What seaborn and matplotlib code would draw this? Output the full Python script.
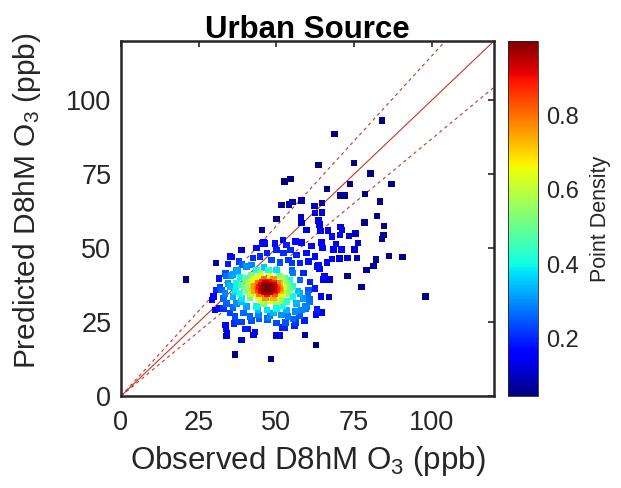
import numpy as np
import pandas as pd
import matplotlib
matplotlib.use("Agg")
import matplotlib.pyplot as plt
import seaborn as sns

# ---------------- data ----------------
# dense core
core_x = [42, 45, 48, 51,
          40, 43, 46, 49, 52,
          41, 44, 46.5, 49, 51, 53.5,
          39.5, 42.5, 44.5, 46, 47.5, 49, 50.5, 52.5,
          40.5, 43, 45, 46.5, 48, 49.5, 51.5, 54,
          42, 44.5, 47, 49.5, 52,
          41.5, 44, 46.5, 49, 51.5,
          45, 48, 51,
          45.5, 46.5, 47.5, 48.5, 45.0, 46.0, 47.0, 48.0, 49.0, 46.0,
          47.0, 48.0, 44.5, 49.5, 45.5, 47.5, 46.5, 48.5, 44.0, 50.0,
          46.0, 47.0, 48.0, 45.0, 49.0, 43.0, 51.0, 42.5, 50.5]
core_y = [40.5, 40.5, 40.5, 40.5,
          39.3, 39.3, 39.3, 39.3, 39.3,
          38.1, 38.1, 38.1, 38.1, 38.1, 38.1,
          36.9, 36.9, 36.9, 36.9, 36.9, 36.9, 36.9, 36.9,
          35.7, 35.7, 35.7, 35.7, 35.7, 35.7, 35.7, 35.7,
          34.5, 34.5, 34.5, 34.5, 34.5,
          33.3, 33.3, 33.3, 33.3, 33.3,
          32.1, 32.1, 32.1,
          36.3, 36.3, 36.3, 36.3, 37.5, 37.5, 37.5, 37.5, 37.5, 35.2,
          35.2, 35.2, 36.9, 36.9, 38.5, 38.5, 37.0, 37.0, 36.0, 36.0,
          36.6, 36.6, 36.6, 35.8, 35.8, 37.2, 36.2, 35.5, 38.0]

# middle ring
ring_x = [49.5, 52.1, 53.3, 56.0, 58.1, 61.3,
          43.6, 45.8, 46.9, 50.1, 52.2, 54.6, 56.5, 59.6, 62.4,
          42.5, 44.7, 48.5, 51.2, 53.9, 57.6, 60.3, 63.0,
          40.4, 42.0, 43.6, 37.2, 38.3, 35.1, 34.5, 33.5, 34.0, 32.9,
          35.1, 36.7, 39.4, 41.5, 44.2, 46.9, 49.0, 51.7, 53.8, 56.0,
          58.1, 59.7, 60.8, 60.3, 60.8, 58.7, 57.6, 55.4, 55.4, 57.6,
          56.5, 53.3, 50.1, 46.9, 43.6, 40.4, 37.2, 36.1, 36.7, 37.2,
          39.9, 44.7, 54.4, 53.3, 55.4,
          30.8, 29.7, 29.3, 30.2, 31.6, 31.8, 32.3, 33.6, 35.4, 37.4,
          34.5, 35.1, 37.9,
          38.3, 38.8, 45.8, 50.1, 53.3, 54.4, 52.8, 50.1, 47.4, 42.0, 38.8,
          37.0, 39.0, 36.0, 46.0, 55.0, 57.0, 52.0, 44.0, 36.0, 33.0,
          34.0, 39.0, 55.0, 58.5, 57.5, 48.0, 42.0]
ring_y = [51.6, 52.7, 51.0, 52.2, 51.9, 50.7,
          50.0, 51.9, 48.3, 49.4, 48.3, 49.4, 47.7, 48.3, 47.1,
          46.6, 47.1, 46.0, 45.1, 46.0, 44.9, 45.5, 43.8,
          43.7, 44.3, 42.6, 42.6, 40.3, 37.0, 38.1, 34.7, 31.3, 29.6,
          28.0, 26.8, 28.0, 26.8, 27.4, 26.3, 28.0, 27.4, 26.8, 28.5,
          29.1, 30.2, 31.9, 35.8, 38.6, 41.5, 39.2, 41.5, 37.0, 34.7,
          31.3, 29.1, 29.6, 29.1, 30.2, 30.2, 31.3, 33.6, 35.3, 38.1,
          39.8, 41.4, 39.2, 34.7, 33.6,
          35.8, 33.6, 32.4, 29.1, 29.6, 36.8, 35.8, 41.4, 40.8, 42.0,
          44.6, 47.1, 45.5,
          34.7, 31.9, 31.3, 31.9, 31.9, 36.4, 39.8, 42.6, 42.6, 40.9, 37.5,
          36.0, 33.0, 41.0, 43.5, 42.5, 35.5, 30.5, 29.0, 30.0, 33.0,
          40.5, 44.5, 45.0, 33.0, 27.0, 27.0, 25.5]

# sparse outer points
outer_x = [84.0, 68.7, 63.6, 74.9, 80.2, 52.6, 54.6, 73.7, 87.1, 66.3,
           70.5, 71.9, 78.5, 58.0, 51.6, 54.0, 55.1, 62.2, 64.6, 83.4,
           62.4, 64.6, 50.1, 57.9, 58.0, 82.3, 63.6, 63.8, 78.3, 84.6,
           45.4, 59.6, 64.1, 66.6, 70.6, 71.1, 75.4, 76.2, 84.4, 83.9,
           67.9, 70.4, 73.4, 45.4, 46.4, 52.1, 56.3, 64.5, 64.9, 69.2,
           68.4, 70.9, 75.2, 38.8, 35.6, 30.5, 82.0, 86.2, 90.6, 75.9,
           72.9, 70.3, 79.0, 81.2, 72.9, 20.9, 31.5, 77.3, 98.0, 66.9,
           64.4, 62.7, 36.6, 48.2, 59.2, 50.1, 51.2, 38.7, 33.8, 34.1,
           34.0, 33.7, 36.3, 37.6, 38.7, 39.9, 40.9, 43.1, 42.6, 44.4,
           47.2, 50.0, 53.0, 56.1, 55.9, 59.1, 52.0, 52.6, 55.4, 63.6,
           63.0, 64.5, 62.8, 59.3, 59.3, 62.4, 60.1, 60.7, 65.0, 67.1,
           63.6, 66.2, 67.9, 63.8, 65.5]
outer_y = [93.2, 88.6, 78.1, 78.7, 75.2, 72.5, 73.4, 71.7, 71.7, 69.9,
           67.8, 67.8, 68.3, 66.0, 64.5, 64.7, 65.5, 64.2, 65.3, 65.7,
           61.9, 62.1, 59.8, 60.4, 58.4, 60.9, 59.3, 57.9, 58.6, 57.4,
           56.1, 56.1, 55.8, 55.9, 57.2, 56.1, 55.0, 51.8, 54.4, 53.0,
           54.0, 54.5, 54.1, 51.6, 51.6, 52.7, 52.2, 51.9, 50.0, 51.3,
           49.5, 49.6, 49.6, 49.4, 47.0, 45.0, 46.2, 47.3, 47.0, 46.7,
           46.7, 46.4, 42.6, 43.9, 40.5, 39.4, 39.7, 36.8, 33.6, 33.5,
           33.7, 17.2, 14.1, 12.5, 20.7, 20.5, 20.5, 18.9, 22.7, 21.3,
           20.2, 24.0, 24.5, 25.0, 25.0, 22.7, 22.7, 21.6, 20.7, 26.1,
           25.7, 24.7, 24.8, 24.8, 23.7, 25.6, 23.2, 23.2, 26.1, 28.2,
           29.3, 28.2, 27.6, 30.5, 29.6, 36.4, 34.4, 32.7, 39.4, 39.4,
           44.3, 45.1, 46.3, 43.0, 40.6]

ticks = [0, 25, 50, 75, 100]
cbar_ticks = [0.2, 0.4, 0.6, 0.8]
slope_hi = 1.15
slope_lo = 1 / 1.15

# ---------------- density ----------------
obs = np.array(core_x + ring_x + outer_x, dtype=float)
pred = np.array(core_y + ring_y + outer_y, dtype=float)
h = 3.4
d2 = (obs[:, None] - obs[None, :]) ** 2 + (pred[:, None] - pred[None, :]) ** 2
dens = np.exp(-d2 / (2 * h * h)).sum(axis=1)
dens = dens / dens.max()
df = pd.DataFrame({"obs": obs, "pred": pred, "dens": dens}).sort_values("dens")

# ---------------- plot ----------------
sns.set_style("white")
plt.rcParams["font.family"] = ["Liberation Sans", "DejaVu Sans"]
plt.rcParams["mathtext.fontset"] = "custom"
plt.rcParams["mathtext.rm"] = "Liberation Sans"
plt.rcParams["mathtext.it"] = "Liberation Sans:italic"
txt = "#262626"
jet = matplotlib.colormaps["jet"]

fig = plt.figure(figsize=(6.21, 4.88), dpi=100)
ax = fig.add_axes([121 / 621, 92 / 488, 373 / 621, 355 / 488])
vmin, vmax = 0.045, 1.0
norm = matplotlib.colors.Normalize(vmin=vmin, vmax=vmax)
sns.scatterplot(data=df, x="obs", y="pred", hue="dens", palette=jet,
                hue_norm=norm, marker="s", s=22, linewidth=0,
                legend=False, ax=ax, zorder=3)

xx = np.array([0, 120])
lc = "#c0392b"
ax.plot(xx, xx, color=lc, lw=0.8, zorder=2)
ax.plot(xx, slope_hi * xx, color=lc, lw=0.8, ls=(0, (3, 3)), zorder=2)
ax.plot(xx, slope_lo * xx, color=lc, lw=0.8, ls=(0, (3, 3)), zorder=2)

ax.set_xlim(0, 120)
ax.set_ylim(0, 120)
ax.set_xticks(ticks)
ax.set_yticks(ticks)
ax.tick_params(direction="in", length=4, width=1.2, top=True, right=True,
               labelsize=19.5, colors=txt)
ax.tick_params(axis="x", pad=10)
ax.tick_params(axis="y", pad=7)
for sp in ax.spines.values():
    sp.set_linewidth(1.8)
    sp.set_color(txt)
ax.set_xlabel(r"Observed D8hM O$_3$ (ppb)", fontsize=22.5, color=txt)
ax.set_ylabel(r"Predicted D8hM O$_3$ (ppb)", fontsize=21.5, color=txt)
ax.yaxis.set_label_coords(-0.209, 0.549)
ax.xaxis.set_label_coords(0.5, -0.135)
ax.set_title("Urban Source", fontsize=22.5, fontweight="bold", color="black", pad=2)

cax = fig.add_axes([508 / 621, 92 / 488, 29.5 / 621, 355 / 488])
sm = matplotlib.cm.ScalarMappable(norm=norm, cmap=jet)
cb = fig.colorbar(sm, cax=cax, ticks=cbar_ticks)
cb.outline.set_linewidth(0.6)
cax.tick_params(direction="in", length=3, labelsize=17, colors=txt, pad=6)
cb.set_label("Point Density", fontsize=15.5, color=txt, labelpad=8)

fig.savefig("out.png", dpi=100)
